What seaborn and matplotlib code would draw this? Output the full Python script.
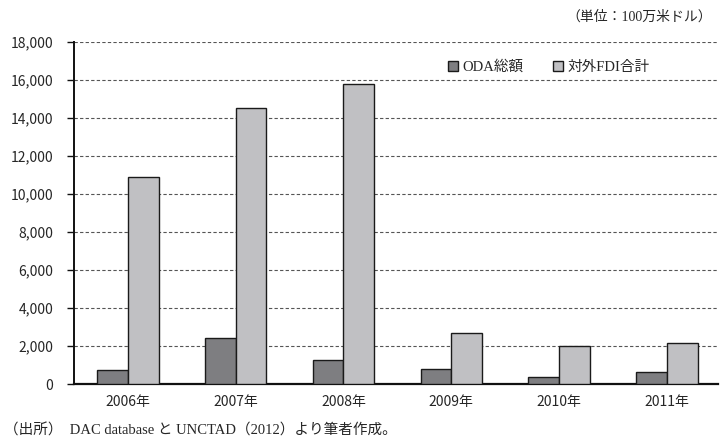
import matplotlib
matplotlib.use("Agg")
import matplotlib.pyplot as plt
import seaborn as sns
import pandas as pd

years = ["2006年", "2007年", "2008年", "2009年", "2010年", "2011年"]
oda_total = [750, 2400, 1250, 800, 350, 650]
fdi_total = [10900, 14550, 15800, 2700, 2000, 2150]
series_names = ["ODA総額", "対外FDI合計"]

df = pd.DataFrame({
    "year": years * 2,
    "value": oda_total + fdi_total,
    "series": [series_names[0]] * len(years) + [series_names[1]] * len(years),
})

sns.set_theme(style="white")
plt.rcParams["font.family"] = ["Noto Sans CJK JP", "DejaVu Sans"]
serif = ["Liberation Serif", "Noto Sans CJK JP"]

fig = plt.figure(figsize=(7.23, 4.44), dpi=100)
ax = fig.add_axes([0.1024, 0.135, 0.89, 0.77])

sns.barplot(data=df, x="year", y="value", hue="series",
            palette=["#7d7e82", "#bfc0c4"], width=0.57,
            edgecolor="#1a1a1a", linewidth=1.0, ax=ax, zorder=3)

ax.set_xlim(-0.5, 5.47)
ax.set_ylim(0, 18000)
ax.set_yticks(range(0, 18001, 2000))
ax.set_yticklabels([f"{v:,}" for v in range(0, 18001, 2000)], fontsize=10)
ax.tick_params(axis="x", labelsize=10, length=0, pad=8)
ax.tick_params(axis="y", length=5, width=1.0, color="#111111", pad=10, direction="out", left=True)
ax.yaxis.grid(True, linestyle=(0, (3, 2)), color="#555555", linewidth=0.8, zorder=0)
ax.set_xlabel("")
ax.set_ylabel("")
for s in ["top", "right"]:
    ax.spines[s].set_visible(False)
ax.spines["left"].set_color("#111111")
ax.spines["left"].set_linewidth(1.4)
ax.spines["bottom"].set_color("#111111")
ax.spines["bottom"].set_linewidth(1.6)

leg = ax.legend(loc="upper right", bbox_to_anchor=(0.915, 0.985), ncol=2, frameon=False,
                prop={"family": serif, "size": 10.5}, handlelength=0.7, handleheight=0.7,
                handletextpad=0.3, columnspacing=2.0)

fig.text(0.985, 0.962, "（単位：100万米ドル）", ha="right", va="center",
         fontsize=10, family=serif)
fig.text(0.005, 0.03, "（出所）  DAC database と UNCTAD（2012）より筆者作成。",
         ha="left", va="center", fontsize=10.5, family=serif)

fig.savefig("out.png", dpi=100)
